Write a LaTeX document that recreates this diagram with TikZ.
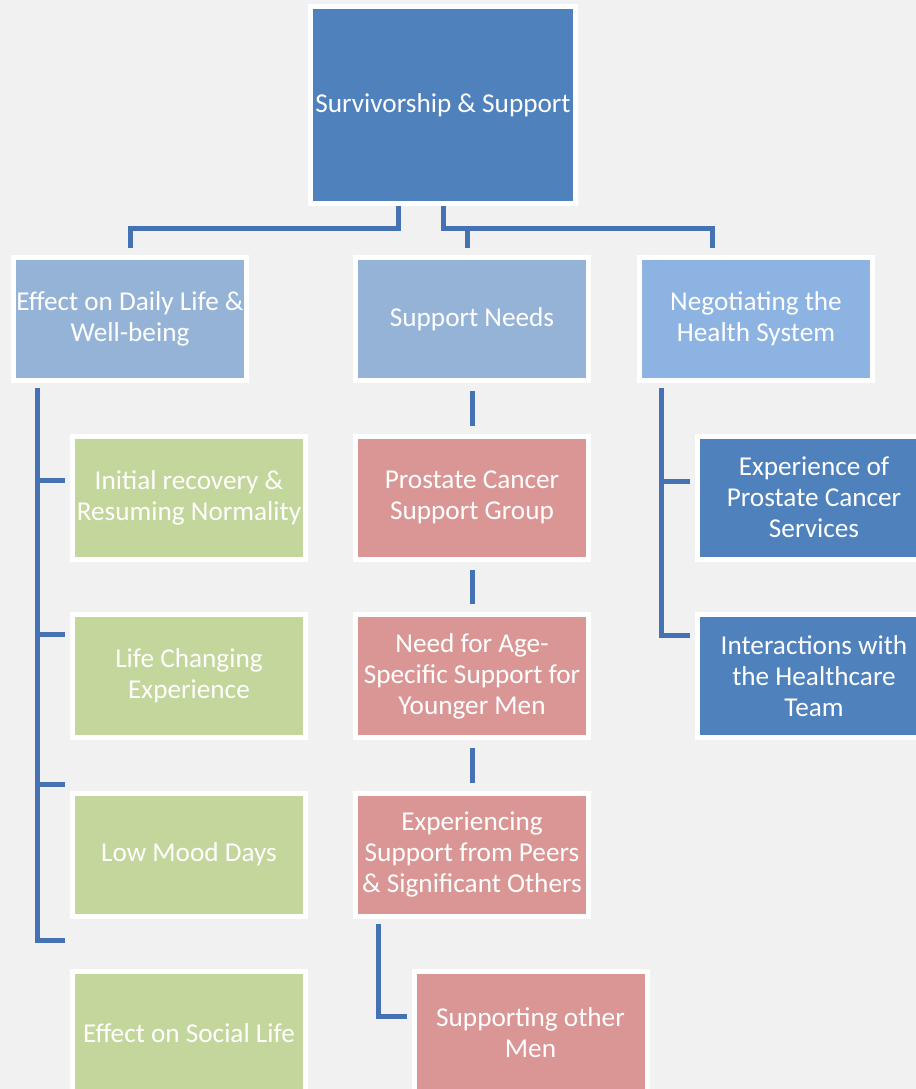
\documentclass[tikz,border=0pt]{standalone}
\usepackage{fontspec}
\setmainfont{Carlito}
\usetikzlibrary{positioning}
\definecolor{bgcol}{RGB}{241,241,241}
\definecolor{topblue}{RGB}{79,129,189}
\definecolor{midblue}{RGB}{149,179,215}
\definecolor{skyblue}{RGB}{141,179,226}
\definecolor{leafgreen}{RGB}{195,214,155}
\definecolor{leafpink}{RGB}{217,150,148}
\definecolor{linecol}{RGB}{68,114,178}
\begin{document}
\begin{tikzpicture}[node distance=3.57cm,
  box/.style={fill=#1,draw=white,line width=0.1cm,text=white,inner sep=0pt,align=center,
    minimum width=4.66cm,minimum height=2.46cm,font=\fontsize{15.5}{17.6}\selectfont},
  conn/.style={draw=linecol,line width=0.1cm}]
\clip (0,0) rectangle (18.32,-21.78);
\fill[bgcol] (0,0) rectangle (18.32,-21.78);

\node[box=topblue,minimum width=5.3cm,minimum height=3.94cm] (root) at (8.86,-2.10) {Survivorship \& Support};
\node[box=midblue] (effect) at (2.60,-6.38) {Effect on Daily Life \&\\Well-being};
\node[box=midblue] (support) at (9.44,-6.38) {Support Needs};
\node[box=skyblue] (negot) at (15.12,-6.38) {Negotiating the\\Health System};

\node[box=leafgreen] (initial) at (3.78,-9.95) {Initial recovery \&\\Resuming Normality};
\node[box=leafgreen,below of=initial] (lifechg) {Life Changing\\Experience};
\node[box=leafgreen,below of=lifechg] (lowmood) {Low Mood Days};
\node[box=leafgreen,below of=lowmood] (social) {Effect on Social Life};

\node[box=leafpink] (pcsg) at (9.44,-9.95) {Prostate Cancer\\Support Group};
\node[box=leafpink,below of=pcsg] (agespec) {Need for Age-\\Specific Support for\\Younger Men};
\node[box=leafpink,below of=agespec] (peers) {Experiencing\\Support from Peers\\\& Significant Others};
\node[box=leafpink,below of=peers,xshift=1.17cm] (othermen) {Supporting other\\Men};

\node[box=topblue] (pcserv) at (16.28,-9.95) {Experience of\\Prostate Cancer\\Services};
\node[box=topblue,below of=pcserv] (hcteam) {Interactions with\\the Healthcare\\Team};

% top level
\draw[conn,shorten >=0.15cm] ([xshift=-0.9cm]root.south) -- ++(0,-0.45) -| (effect.north);
\draw[conn,shorten >=0.15cm] (root.south) -- ++(0,-0.45) -| ([xshift=-0.88cm]negot.north);
\draw[conn,shorten >=0.15cm] (root.south) ++(0,-0.45) -| ([xshift=-0.1cm]support.north);

% daily life branch
\draw[conn,shorten <=0.1cm,shorten >=0.1cm] ([xshift=-1.86cm]effect.south) |- ([yshift=0.35cm]initial.west);
\draw[conn,shorten <=0.1cm,shorten >=0.1cm] ([xshift=-1.86cm]effect.south) |- ([yshift=0.84cm]lifechg.west);
\draw[conn,shorten <=0.1cm,shorten >=0.1cm] ([xshift=-1.86cm]effect.south) |- ([yshift=1.4cm]lowmood.west);
\draw[conn,shorten <=0.1cm,shorten >=0.1cm] ([xshift=-1.86cm]effect.south) |- ([yshift=1.86cm]social.west);

% support branch
\draw[conn,shorten <=0.16cm,shorten >=0.16cm] (support) -- (pcsg);
\draw[conn,shorten <=0.16cm,shorten >=0.16cm] (pcsg) -- (agespec);
\draw[conn,shorten <=0.16cm,shorten >=0.16cm] (agespec) -- (peers);
\draw[conn,shorten <=0.1cm,shorten >=0.1cm] ([xshift=-1.88cm]peers.south) |- ([yshift=0.34cm]othermen.west);

% health system branch
\draw[conn,shorten <=0.1cm,shorten >=0.1cm] ([xshift=-1.9cm]negot.south) |- ([yshift=0.33cm]pcserv.west);
\draw[conn,shorten <=0.1cm,shorten >=0.1cm] ([xshift=-1.9cm]negot.south) |- ([yshift=0.82cm]hcteam.west);
\end{tikzpicture}
\end{document}
